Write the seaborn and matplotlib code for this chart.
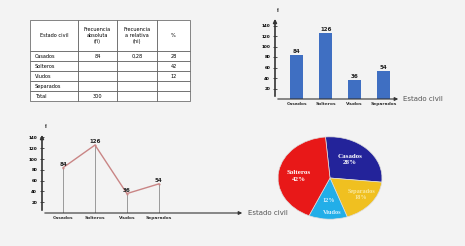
import matplotlib
matplotlib.use('Agg')
import matplotlib.pyplot as plt
import seaborn as sns
import pandas as pd

# ── DATA ────────────────────────────────────────────────────────────────────
categorias = ["Casados", "Solteros", "Viudos", "Separados"]
frecuencias = [84, 126, 36, 54]
porcentajes = [28, 42, 12, 18]
y_ticks = [20, 40, 60, 80, 100, 120, 140]

tabla_header = ["Estado civil", "Frecuencia\nabsoluta\n(fi)", "Frecuencia\na relativa\n(hi)", "%"]
tabla_filas = [
    ["Casados", "84", "0,28", "28"],
    ["Solteros", "", "", "42"],
    ["Viudos", "", "", "12"],
    ["Separados", "", "", ""],
    ["Total", "300", "", ""],
]

pie_colores = ["#23239a", "#f0c020", "#22aee8", "#e81818"]
pie_orden = [0, 3, 2, 1]  # Casados, Separados, Viudos, Solteros (clockwise)

BG = "#f3f3f3"
BAR_COLOR = "#3f6fc2"
LINE_COLOR = "#c98585"

df = pd.DataFrame({"estado": categorias, "fi": frecuencias})

fig = plt.figure(figsize=(4.65, 2.46), dpi=100, facecolor=BG)


def estilo_ejes(ax, xmax, ymax):
    for s in ax.spines.values():
        s.set_visible(False)
    ax.set_facecolor(BG)
    ax.annotate("", xy=(xmax, 0), xytext=(ax.get_xlim()[0], 0),
                arrowprops=dict(arrowstyle="-|>", color="#333333", lw=0.8,
                                mutation_scale=5), annotation_clip=False)
    ax.annotate("", xy=(ax.get_xlim()[0], ymax), xytext=(ax.get_xlim()[0], 0),
                arrowprops=dict(arrowstyle="-|>", color="#333333", lw=1.2,
                                mutation_scale=5), annotation_clip=False)
    ax.set_yticks(y_ticks)
    ax.set_yticklabels([str(t) for t in y_ticks], fontsize=3, fontweight="bold")
    ax.tick_params(axis="y", direction="inout", length=3, width=0.6, pad=2, color="#333333")
    ax.tick_params(axis="x", length=0, pad=2)
    ax.set_xticks(range(len(categorias)))
    ax.set_xticklabels(categorias, fontsize=3.2, fontweight="bold", color="#333333")
    ax.set_xlabel("")
    ax.set_ylabel("")
    ax.text(ax.get_xlim()[0] + 0.05, ymax + 2, "f$_i$", fontsize=3.5, ha="left", va="bottom")
    ax.text(xmax + 0.08, 0, "Estado civil", fontsize=5, ha="left", va="center",
            color="#555555")


# ── TABLE ───────────────────────────────────────────────────────────────────
ax_t = fig.add_axes([30 / 465, 1 - 101 / 246, 160 / 465, 81 / 246])
ax_t.axis("off")
tbl = ax_t.table(cellText=tabla_filas, colLabels=tabla_header, bbox=[0, 0, 1, 1],
                 cellLoc="left", colWidths=[48, 39, 40, 33])
tbl.auto_set_font_size(False)
tbl.set_fontsize(3.6)
hdr_h = 31 / 81
row_h = (1 - hdr_h) / len(tabla_filas)
for (r, c), cell in tbl.get_celld().items():
    cell.set_linewidth(0.5)
    cell.set_edgecolor("#555555")
    cell.set_facecolor("white")
    cell.set_height(hdr_h if r == 0 else row_h)
    if r == 0 and c > 0:
        cell.set_text_props(ha="center")
    if r > 0 and c > 0:
        cell.set_text_props(ha="center")

# ── BAR CHART ───────────────────────────────────────────────────────────────
ax_b = fig.add_axes([275 / 465, 147 / 246, 126 / 465, 84 / 246])
sns.barplot(data=df, x="estado", y="fi", color=BAR_COLOR, width=0.45,
            saturation=1, ax=ax_b)
ax_b.set_xlim(-0.75, 3.6)
ax_b.set_ylim(0, 160)
for i, v in enumerate(frecuencias):
    ax_b.text(i, v + 2, str(v), ha="center", va="bottom", fontsize=4, fontweight="bold",
              color="#222222")
estilo_ejes(ax_b, 3.6, 158)

# ── LINE CHART ──────────────────────────────────────────────────────────────
ax_l = fig.add_axes([42 / 465, 33 / 246, 203 / 465, 82 / 246])
ax_l.set_xlim(-0.66, 5.7)
ax_l.set_ylim(0, 152)
ax_l.vlines(range(len(categorias)), 0, frecuencias, color="#777777", lw=0.5)
sns.lineplot(x=list(range(len(categorias))), y=frecuencias, color=LINE_COLOR, lw=1.0,
             marker="o", markersize=1.5, markeredgewidth=0, ax=ax_l)
for i, v in enumerate(frecuencias):
    ax_l.text(i, v + 2, str(v), ha="center", va="bottom", fontsize=4, fontweight="bold",
              color="#222222")
ax_l.set_xlim(-0.66, 5.7)
ax_l.set_ylim(0, 152)
estilo_ejes(ax_l, 5.7, 150)

# ── PIE CHART ───────────────────────────────────────────────────────────────
ax_p = fig.add_axes([277 / 465, 26 / 246, 106 / 465, 84 / 246])
vals = [porcentajes[i] for i in pie_orden]
wedges, _ = ax_p.pie(vals, colors=pie_colores, startangle=95, counterclock=False,
                     wedgeprops=dict(edgecolor="#dddddd", linewidth=0.5))
ax_p.set_aspect("auto")
ax_p.set_xlim(-1.02, 1.02)
ax_p.set_ylim(-1.02, 1.02)
serif = dict(family=["Liberation Serif", "DejaVu Serif"], fontweight="bold")
ax_p.text(0.38, 0.45, f"{categorias[0]}\n{porcentajes[0]}%", color="white", fontsize=5,
          ha="center", va="center", linespacing=1.3, **serif)
ax_p.text(-0.6, 0.05, f"{categorias[1]}\n{porcentajes[1]}%", color="white", fontsize=5,
          ha="center", va="center", linespacing=1.3, **serif)
ax_p.text(0.6, -0.4, f"{categorias[3]}\n{porcentajes[3]}%", color="#f8e8a0", fontsize=4.5,
          ha="center", va="center", linespacing=1.3, **serif)
ax_p.text(-0.02, -0.55, f"{porcentajes[2]}%", color="#d8f0ff", fontsize=4.5,
          ha="center", va="center", **serif)
ax_p.text(0.05, -0.85, categorias[2], color="#d8f0ff", fontsize=4.5,
          ha="center", va="center", **serif)

fig.savefig("out.png", dpi=100, facecolor=BG)
